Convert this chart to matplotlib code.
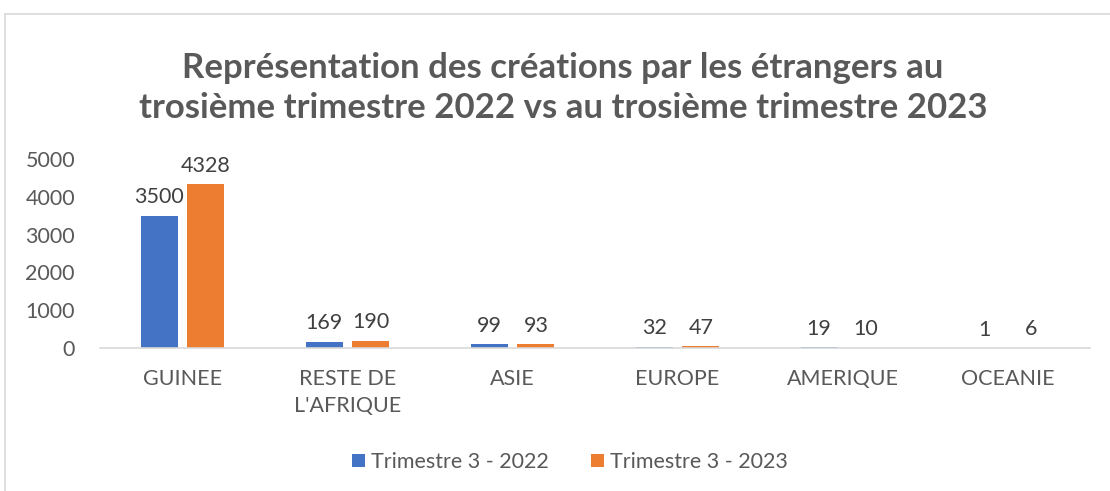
import matplotlib
matplotlib.use("Agg")
import matplotlib.pyplot as plt
from matplotlib.patches import Rectangle
import numpy as np

categories = ["GUINEE", "RESTE DE\nL'AFRIQUE", "ASIE", "EUROPE", "AMERIQUE", "OCEANIE"]
series_2022 = [3500, 169, 99, 32, 19, 1]
series_2023 = [4328, 190, 93, 47, 10, 6]
labels = ["Trimestre 3 - 2022", "Trimestre 3 - 2023"]
yticks = [0, 1000, 2000, 3000, 4000, 5000]
title = "Représentation des créations par les étrangers au\ntrosième trimestre 2022 vs au trosième trimestre 2023"

plt.rcParams['font.family'] = ['Lato', 'DejaVu Sans']
grey = "#595959"
c1 = "#4472C4"
c2 = "#ED7D31"
fs = 15.5

W, H = 1110, 491
fig = plt.figure(figsize=(W/100, H/100), dpi=100)
fig.patches.append(Rectangle((5/W, -0.1), 1.2, 1 - 14/H + 0.1, transform=fig.transFigure,
                             fill=False, edgecolor="#d9d9d9", linewidth=1.2))

ax = fig.add_axes([100/W, 1 - 348/H, 990/W, (348 - 159)/H])
x = np.arange(len(categories))
bw = 0.224
off = 0.142
b1 = ax.bar(x - off, series_2022, bw, color=c1, label=labels[0])
b2 = ax.bar(x + off, series_2023, bw, color=c2, label=labels[1])
for bars, vals in ((b1, series_2022), (b2, series_2023)):
    for r, v in zip(bars, vals):
        ax.annotate(str(v), (r.get_x() + r.get_width()/2, v), xytext=(0, 6),
                    textcoords="offset points", ha="center", va="bottom",
                    fontsize=fs, color="#404040")

ax.set_xlim(-0.5, len(categories) - 0.5)
ax.set_ylim(0, 5000)
ax.set_yticks(yticks)
ax.set_yticklabels([str(t) for t in yticks], fontsize=fs, color=grey)
ax.set_xticks(x)
ax.set_xticklabels(categories, fontsize=fs, color=grey, linespacing=1.45, va="top")
ax.tick_params(axis="both", length=0)
ax.tick_params(axis="x", pad=15)
ax.tick_params(axis="y", pad=18)
for s in ("top", "right", "left"):
    ax.spines[s].set_visible(False)
ax.spines["bottom"].set_color("#d9d9d9")
ax.spines["bottom"].set_linewidth(1.2)

fig.text(563/W, 1 - 88/H, title, ha="center", va="center", fontsize=25, fontweight="bold",
         color=grey, linespacing=1.3)

leg = fig.legend(handles=[b1, b2], labels=labels, loc="center", bbox_to_anchor=(570/W, 1 - 462/H),
                 ncol=2, frameon=False, fontsize=fs, handlelength=0.6, handleheight=0.6,
                 handletextpad=0.25, columnspacing=2.0)
for t in leg.get_texts():
    t.set_color(grey)

fig.savefig("out.png", dpi=100)
